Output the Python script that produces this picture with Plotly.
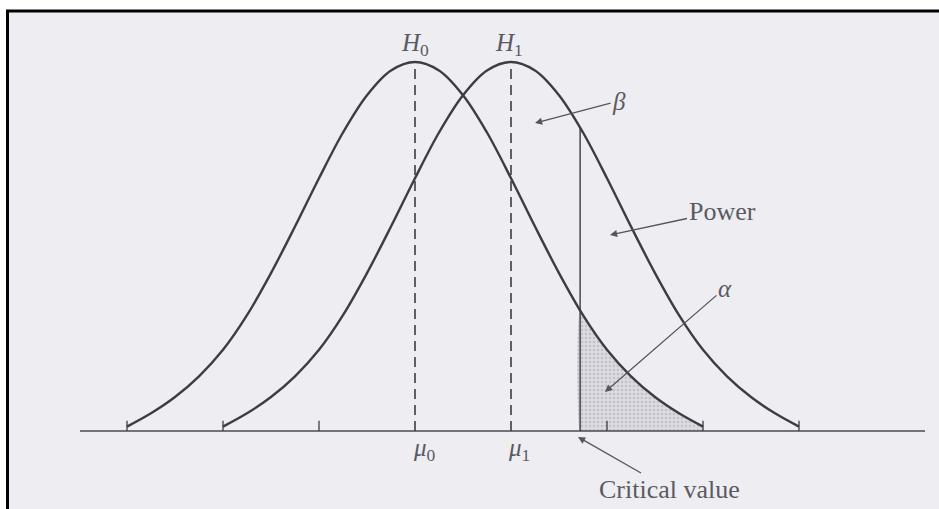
import plotly.graph_objects as go

# ---- data (standardised units: tick spacing = 1, mu0 = 0) ----
z_offsets = [-3.0, -2.75, -2.5, -2.25, -2.0, -1.75, -1.5, -1.25, -1.0, -0.75, -0.5, -0.25,
             0.0, 0.25, 0.5, 0.75, 1.0, 1.25, 1.5, 1.75, 2.0, 2.25, 2.5, 2.75, 3.0]
curve_heights = [0.012, 0.048, 0.092, 0.148, 0.22, 0.314, 0.428, 0.554, 0.685, 0.809, 0.91, 0.977,
                 1.0, 0.977, 0.91, 0.809, 0.685, 0.554, 0.428, 0.314, 0.22, 0.148, 0.092, 0.048, 0.012]
mu0 = 0.0
mu1 = 1.0
critical = 1.72
h0_at_critical = 0.325
h1_at_critical = 0.82
tick_positions = [-3, -2, -1, 2, 3, 4]
mean_labels = ["<i>μ</i><sub>0</sub>", "<i>μ</i><sub>1</sub>"]
hyp_labels = ["<i>H</i><sub>0</sub>", "<i>H</i><sub>1</sub>"]

# ---- pixel helpers for annotation placement ----
X0, SX, Y0, SY = 415.0, 96.0, 431.0, 369.0
def X(px):
    return (px - X0) / SX
def Y(py):
    return (Y0 - py) / SY

LINE = "#3c3c44"
TXT = "#5a5a62"
FONT = "Liberation Serif"

fig = go.Figure()

# alpha shaded region (under H0, right of critical value)
tail_z = [mu0 + z for z in z_offsets if mu0 + z > critical]
tail_h = [h for z, h in zip(z_offsets, curve_heights) if mu0 + z > critical]
end_z = mu0 + z_offsets[-1]
base_z = [end_z, end_z - 0.01, (end_z + critical) / 2, critical + 0.01, critical]
ax_ = [critical] + tail_z + base_z + [critical]
ay_ = [h0_at_critical] + tail_h + [0.0] * len(base_z) + [h0_at_critical]
fig.add_trace(go.Scatter(x=ax_, y=ay_, mode="none", fill="toself",
                         fillcolor="rgba(215,214,220,0.9)",
                         fillpattern=dict(shape=".", fgcolor="#a9a8b0", bgcolor="#dcdbe1",
                                          size=4, solidity=0.35),
                         line_shape="spline", hoverinfo="skip", showlegend=False))

# curves
for mu in (mu0, mu1):
    fig.add_trace(go.Scatter(x=[mu + z for z in z_offsets], y=curve_heights, mode="lines",
                             line=dict(color=LINE, width=2.4, shape="spline", smoothing=1.0),
                             hoverinfo="skip", showlegend=False))

# baseline axis
fig.add_trace(go.Scatter(x=[X(80), X(925)], y=[0, 0], mode="lines",
                         line=dict(color="#4a4a55", width=1.6), hoverinfo="skip", showlegend=False))

# small ticks
for t in tick_positions:
    fig.add_trace(go.Scatter(x=[t, t], y=[0, 0.028], mode="lines",
                             line=dict(color=LINE, width=1.3), hoverinfo="skip", showlegend=False))

# dashed mean lines
for mu in (mu0, mu1):
    fig.add_trace(go.Scatter(x=[mu, mu], y=[0, 1.0], mode="lines",
                             line=dict(color=LINE, width=1.6, dash="10px,6px"),
                             hoverinfo="skip", showlegend=False))

# critical value line
fig.add_trace(go.Scatter(x=[critical, critical], y=[0, h1_at_critical], mode="lines",
                         line=dict(color=LINE, width=1.4), hoverinfo="skip", showlegend=False))

ann = []
# hypothesis labels
for lab, px in ((hyp_labels[0], 415), (hyp_labels[1], 509)):
    ann.append(dict(x=X(px), y=Y(44), text=lab, showarrow=False,
                    font=dict(family=FONT, size=25, color=TXT)))
# mean labels
for lab, px in ((mean_labels[0], 424), (mean_labels[1], 519)):
    ann.append(dict(x=X(px), y=Y(449), text=lab, showarrow=False,
                    font=dict(family=FONT, size=25, color=TXT)))

def arrow_label(text, tx, ty, hx, hy, size=26):
    return dict(x=X(hx), y=Y(hy), ax=X(tx), ay=Y(ty), axref="x", ayref="y",
                text=text, showarrow=True, arrowhead=2, arrowsize=1.1, arrowwidth=1.3,
                arrowcolor="#55555e", standoff=0,
                font=dict(family=FONT, size=size, color=TXT))

ann.append(arrow_label("<i>β</i>", 619, 101, 535, 123, 25))
ann.append(arrow_label("Power", 722, 211, 610, 235, 26))
ann.append(arrow_label("<i>α</i>", 725, 288, 605, 392, 25))
ann.append(arrow_label("Critical value", 669, 489, 578, 437, 26))

shapes = [
    # scanned page background inside frame
    dict(type="rect", xref="paper", yref="paper", x0=8 / 939, x1=1.0, y0=0.0, y1=1 - 11 / 509,
         fillcolor="#eeedf2", line=dict(width=0), layer="below"),
    # frame: top and left
    dict(type="line", xref="paper", yref="paper", x0=6 / 939, x1=1.0, y0=1 - 11 / 509, y1=1 - 11 / 509,
         line=dict(color="#000000", width=3)),
    dict(type="line", xref="paper", yref="paper", x0=7.5 / 939, x1=7.5 / 939, y0=0.0, y1=1 - 10 / 509,
         line=dict(color="#000000", width=3)),
]

fig.update_layout(
    width=939, height=509,
    margin=dict(l=0, r=0, t=0, b=0),
    paper_bgcolor="#ffffff", plot_bgcolor="rgba(0,0,0,0)",
    xaxis=dict(range=[X(0), X(939)], visible=False, fixedrange=True),
    yaxis=dict(range=[Y(509), Y(0)], visible=False, fixedrange=True),
    annotations=ann, shapes=shapes, showlegend=False,
)

fig.write_html("out.html", config={"displayModeBar": False},
               post_script="document.body.style.margin='0';")
